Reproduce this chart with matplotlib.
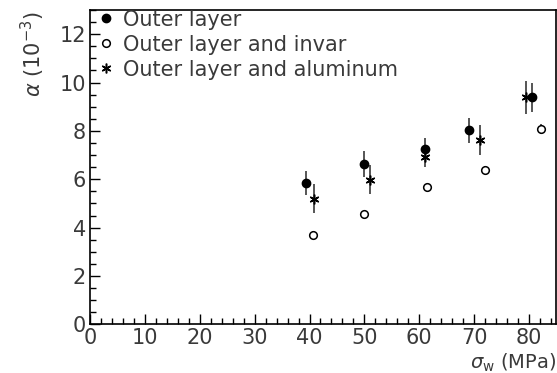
import matplotlib.pyplot as plt
from matplotlib.ticker import MultipleLocator

# alpha vs sigma_w for the three layer configurations
sigma_outer = [39.3, 50.0, 61.0, 69.0, 80.6]
alpha_outer = [5.84, 6.64, 7.24, 8.02, 9.39]
err_outer = [0.50, 0.55, 0.45, 0.53, 0.60]

sigma_invar = [40.7, 50.0, 61.4, 72.0, 82.1]
alpha_invar = [3.70, 4.55, 5.67, 6.39, 8.07]
err_invar = [0.15, 0.10, 0.12, 0.15, 0.20]

sigma_alu = [40.9, 51.0, 61.0, 71.0, 79.5]
alpha_alu = [5.20, 5.99, 6.94, 7.63, 9.39]
err_alu = [0.60, 0.60, 0.45, 0.63, 0.69]

plt.rcParams['font.family'] = ['DejaVu Sans']
txt_color = '#3a3a3a'

fig = plt.figure(figsize=(5.57, 3.73), dpi=100)
ax = fig.add_axes([0.1616, 0.1306, 0.8374, 0.8424])

# error bars first, markers on top
bar_kw = dict(fmt='none', ecolor='#555555', elinewidth=1.4, capsize=0)
ax.errorbar(sigma_outer, alpha_outer, yerr=err_outer, **bar_kw)
ax.errorbar(sigma_invar, alpha_invar, yerr=err_invar, **bar_kw)
ax.errorbar(sigma_alu, alpha_alu, yerr=err_alu, **bar_kw)

ax.plot(sigma_outer, alpha_outer, 'o', ms=6, mfc='black', mec='black',
        label='Outer layer')
ax.plot(sigma_invar, alpha_invar, 'o', ms=5.5, mfc='white', mec='black',
        mew=1.1, label='Outer layer and invar')
ax.plot(sigma_alu, alpha_alu, marker=(6, 2, 0), ls='none', ms=7, mec='black',
        mew=1.1, label='Outer layer and aluminum')

ax.set_xlim(0, 85)
ax.set_ylim(0, 13)
ax.xaxis.set_major_locator(MultipleLocator(10))
ax.xaxis.set_minor_locator(MultipleLocator(2))
ax.yaxis.set_major_locator(MultipleLocator(2))
ax.yaxis.set_minor_locator(MultipleLocator(0.5))
ax.tick_params(which='major', direction='in', length=7, width=1, labelsize=15,
               labelcolor=txt_color, pad=3)
ax.tick_params(which='minor', direction='in', length=4, width=1)
for s in ax.spines.values():
    s.set_linewidth(1.2)

ax.set_ylabel(r'$\alpha$ (10$^{-3}$)', fontsize=15, color=txt_color,
              va='center')
ax.yaxis.set_label_coords(-0.122, 0.86)
ax.set_xlabel(r'$\sigma_{\rm w}$ (MPa)', fontsize=14, color=txt_color,
              ha='right', va='center')
ax.xaxis.set_label_coords(1.0, -0.122)

leg = ax.legend(loc='upper left', frameon=False, fontsize=15, handletextpad=0.35,
                borderaxespad=0.0, borderpad=0.2, labelspacing=0.24,
                handlelength=0.9, bbox_to_anchor=(0.005, 1.015))
for t in leg.get_texts():
    t.set_color(txt_color)

fig.savefig('out.png', dpi=100)
